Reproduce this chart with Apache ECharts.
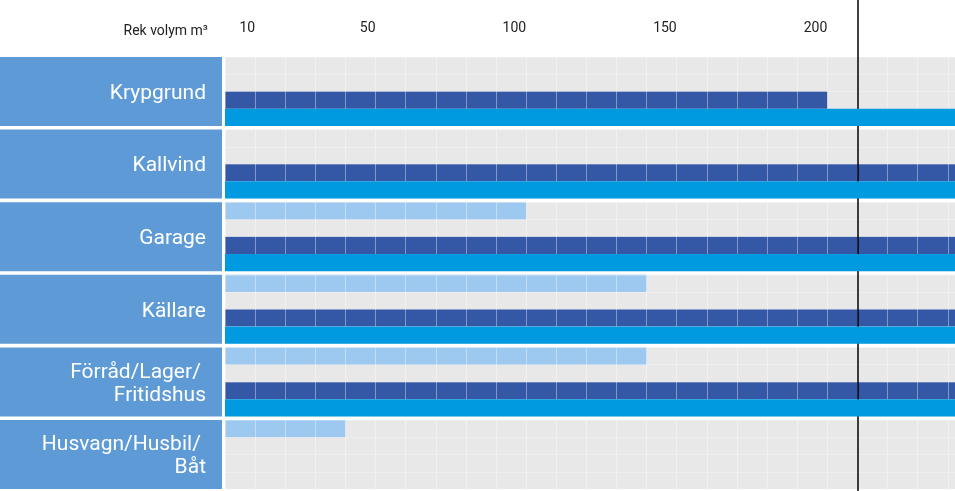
<!DOCTYPE html>
<html>
<head>
<meta charset="utf-8">
<script src="https://cdn.jsdelivr.net/npm/echarts@6/dist/echarts.min.js"></script>
<style>
html,body{margin:0;padding:0;background:#fff;}
#chart{width:955px;height:491px;}
</style>
</head>
<body>
<div id="chart"></div>
<script>
// ---- data ----
const categories = ['Krypgrund', 'Kallvind', 'Garage', 'Källare', 'Förråd/Lager/ \nFritidshus', 'Husvagn/Husbil/ \nBåt'];
const lightValues = [null, null, 100, 140, 140, 40];
const darkValues = [200, 250, 250, 250, 250, null];
const brightValues = [250, 250, 250, 250, 250, null];
const refLineValue = 210;
const tickValues = [10, 50, 100, 150, 200];
const axisTitle = 'Rek volym m³';

// ---- styling / layout ----
const FONT = 'Roboto, "Liberation Sans", sans-serif';
const C_LIGHT = '#9dc8f0', C_DARK = '#3457a6', C_BRIGHT = '#009ae0', C_BOX = '#5e9bd6', C_BG = '#e8e8e8';
const PLOT_LEFT = 225, PLOT_W = 730, X_MAX = 242.4;
const ROW_TOP = 57, ROW_PITCH = 72.6, ROW_H = 69;
const VLINE = 'rgba(255,255,255,0.38)', HLINE = 'rgba(255,255,255,0.28)';

const grid = [], xAxis = [], yAxis = [], series = [];
const hidden = {axisLine:{show:false}, axisTick:{show:false}, axisLabel:{show:false}};
const toVal = v => (v === null || v === undefined) ? '-' : v;

categories.forEach((c, i) => {
  grid.push({left: PLOT_LEFT, top: ROW_TOP + ROW_PITCH * i, width: PLOT_W, height: ROW_H,
             show: true, backgroundColor: C_BG, borderWidth: 0});
  xAxis.push(Object.assign({gridIndex: i, type: 'value', min: 0, max: X_MAX, interval: 10, z: 3,
             splitLine: {show: true, lineStyle: {color: VLINE, width: 1}}}, hidden));
  yAxis.push(Object.assign({gridIndex: i, type: 'category', inverse: true, data: ['s0','s1','s2','s3'], z: 3,
             splitLine: {show: true, lineStyle: {color: HLINE, width: 1}}}, hidden));
  series.push({type: 'bar', xAxisIndex: i, yAxisIndex: i, z: 2, silent: true, clip: true,
    barCategoryGap: '0%', barGap: '-100%',
    data: [
      {value: toVal(lightValues[i]), itemStyle: {color: C_LIGHT}},
      '-',
      {value: toVal(darkValues[i]), itemStyle: {color: C_DARK}},
      '-'
    ]});
  series.push({type: 'bar', xAxisIndex: i, yAxisIndex: i, z: 10, silent: true, clip: true,
    barCategoryGap: '0%', barGap: '-100%',
    data: ['-', '-', '-', {value: toVal(brightValues[i]), itemStyle: {color: C_BRIGHT}}]});
});

// label boxes grid
const gapPx = ROW_PITCH - ROW_H;
const gi = categories.length;
grid.push({left: 0, top: ROW_TOP - gapPx / 2, width: 222, height: ROW_PITCH * categories.length});
xAxis.push(Object.assign({gridIndex: gi, type: 'value', min: 0, max: 1, splitLine: {show: false}}, hidden));
yAxis.push(Object.assign({gridIndex: gi, type: 'category', inverse: true, data: categories, splitLine: {show: false}}, hidden));
series.push({type: 'bar', xAxisIndex: gi, yAxisIndex: gi, silent: true,
  barCategoryGap: (gapPx / ROW_PITCH * 100).toFixed(2) + '%',
  itemStyle: {color: C_BOX},
  label: {show: true, position: 'insideRight', distance: 16, formatter: '{b}', color: '#fff',
          fontSize: 21, lineHeight: 23, fontFamily: FONT, align: 'right', offset: [0, 2]},
  data: categories.map(() => 1)});

// header axis + reference line grid
const hi = gi + 1;
grid.push({left: PLOT_LEFT, top: 0, width: PLOT_W, height: 491});
xAxis.push({gridIndex: hi, type: 'value', position: 'top', min: 0, max: X_MAX,
  axisLine: {show: false}, axisTick: {show: false}, splitLine: {show: false},
  axisLabel: {show: true, inside: true, customValues: tickValues, align: 'right', margin: 21,
              fontSize: 14, color: '#222', fontFamily: FONT}});
yAxis.push(Object.assign({gridIndex: hi, type: 'value', min: 0, max: 1, splitLine: {show: false}}, hidden));
series.push({type: 'line', xAxisIndex: hi, yAxisIndex: hi, data: [], silent: true,
  markLine: {silent: true, symbol: 'none', label: {show: false}, animation: false,
             lineStyle: {color: '#000', width: 1.5, type: 'solid'},
             data: [{xAxis: refLineValue}]}});

const chart = echarts.init(document.getElementById('chart'), null, {renderer: 'canvas'});
chart.setOption({
  animation: false,
  title: {text: axisTitle, right: 955 - 213, top: 19,
          textStyle: {fontSize: 14, fontWeight: 'normal', color: '#222', fontFamily: FONT}},
  grid, xAxis, yAxis, series
});
</script>
</body>
</html>
